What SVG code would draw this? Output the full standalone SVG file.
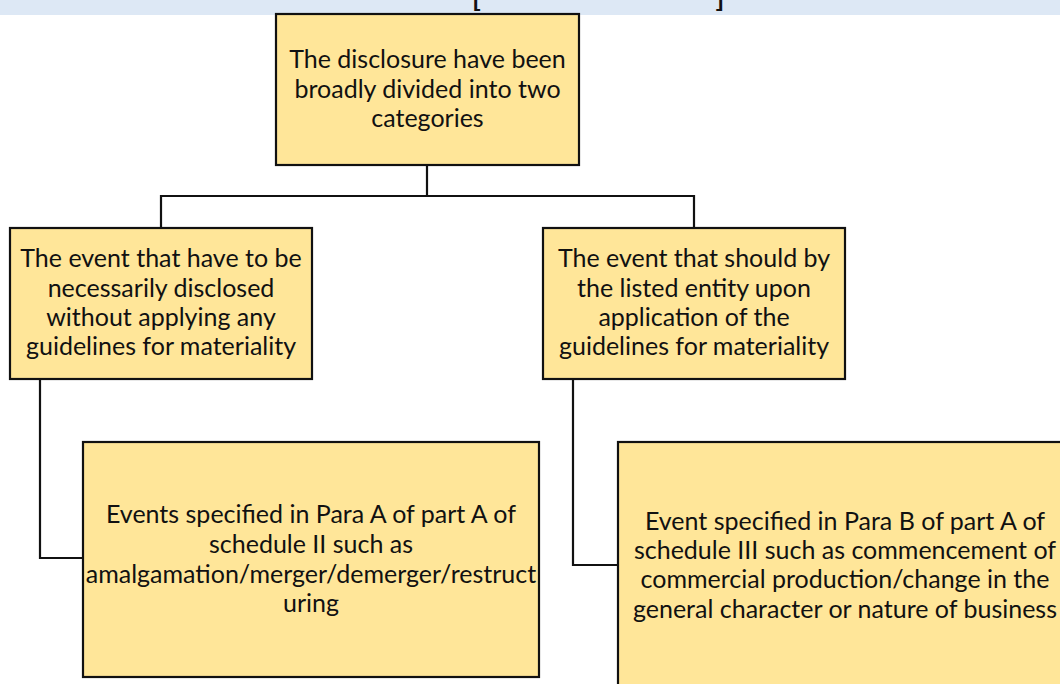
<svg xmlns="http://www.w3.org/2000/svg" width="1060" height="684" viewBox="0 0 1060 684">
  <style>
    .box { fill: #ffe699; stroke: #111; stroke-width: 2.2; }
    .lbl { font-family: Lato, "Liberation Sans", sans-serif; font-size: 25px; fill: #111; text-anchor: middle; }
    .wire { fill: none; stroke: #111; stroke-width: 2.2; }
    .bracket { font-family: "Liberation Sans", sans-serif; font-size: 22px; font-weight: bold; fill: #111; }
  </style>
  <rect x="0" y="0" width="1060" height="684" fill="#ffffff"/>

  <!-- title band -->
  <g id="band">
    <rect x="0" y="0" width="1060" height="15" fill="#dde8f5"/>
    <text class="bracket" x="473" y="6">[</text>
    <text class="bracket" x="716" y="6">]</text>
  </g>

  <!-- connectors -->
  <g id="connectors">
    <path class="wire" d="M427,165 V196 M161,228 V196 H694 V228"/>
    <path class="wire" d="M40,379 V558 H83"/>
    <path class="wire" d="M573,379 V565 H618"/>
  </g>

  <g id="root">
    <rect class="box" x="276" y="14" width="303" height="151"/>
    <text class="lbl" x="427.5" y="68">The disclosure have been</text>
    <text class="lbl" x="427.5" y="98">broadly divided into two</text>
    <text class="lbl" x="427.5" y="127">categories</text>
  </g>

  <g id="mandatory">
    <rect class="box" x="10" y="228" width="302" height="151"/>
    <text class="lbl" x="161" y="267">The event that have to be</text>
    <text class="lbl" x="161" y="297">necessarily disclosed</text>
    <text class="lbl" x="161" y="326">without applying any</text>
    <text class="lbl" x="161" y="355">guidelines for materiality</text>
  </g>

  <g id="materiality">
    <rect class="box" x="543" y="228" width="302" height="151"/>
    <text class="lbl" x="694" y="267">The event that should by</text>
    <text class="lbl" x="694" y="297">the listed entity upon</text>
    <text class="lbl" x="694" y="326">application of the</text>
    <text class="lbl" x="694" y="355">guidelines for materiality</text>
  </g>

  <g id="para-a">
    <rect class="box" x="83" y="442" width="456" height="235"/>
    <text class="lbl" x="311" y="523">Events specified in Para A of part A of</text>
    <text class="lbl" x="311" y="553">schedule II such as</text>
    <text class="lbl" x="311" y="583">amalgamation/merger/demerger/restruct</text>
    <text class="lbl" x="311" y="612">uring</text>
  </g>

  <g id="para-b">
    <rect class="box" x="618" y="442" width="456" height="260"/>
    <text class="lbl" x="845" y="530">Event specified in Para B of part A of</text>
    <text class="lbl" x="845" y="559">schedule III such as commencement of</text>
    <text class="lbl" x="845" y="588">commercial production/change in the</text>
    <text class="lbl" x="845" y="618">general character or nature of business</text>
  </g>
</svg>
